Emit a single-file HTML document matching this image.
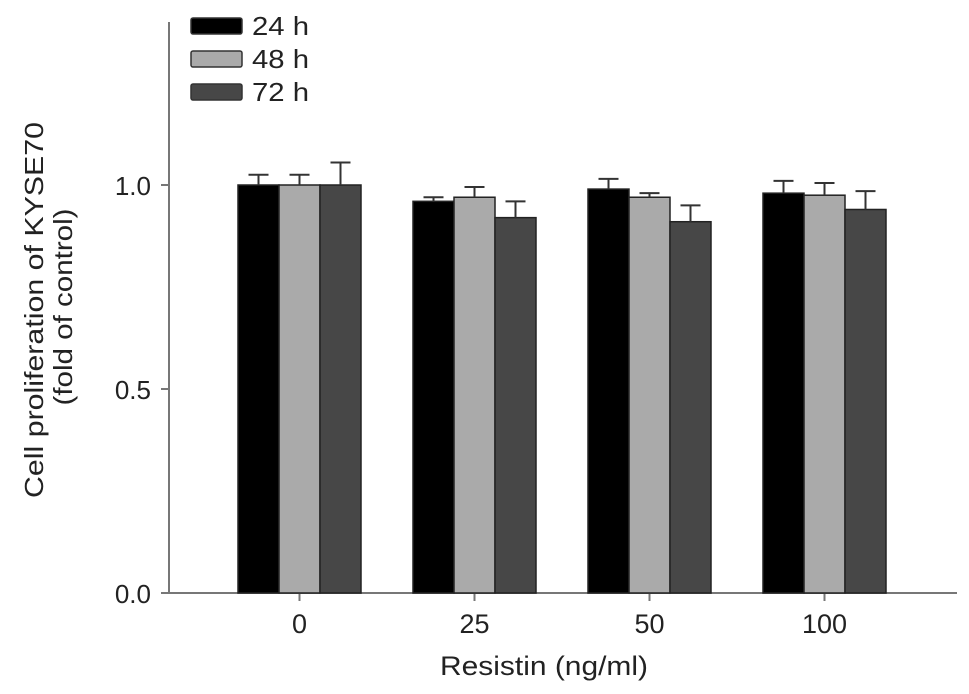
<!DOCTYPE html>
<html><head><meta charset="utf-8"><style>
body{margin:0;background:#fff;}
svg{display:block;font-family:"Liberation Sans",Arial,sans-serif;}
</style></head><body>
<svg id="chart" width="969" height="694"></svg>
<script>
const categories = ["0","25","50","100"];
const seriesNames = ["24 h","48 h","72 h"];
const values24 = [1.00,0.96,0.99,0.98];
const values48 = [1.00,0.97,0.97,0.975];
const values72 = [1.00,0.92,0.91,0.94];
const err24 = [0.025,0.01,0.025,0.03];
const err48 = [0.025,0.025,0.01,0.03];
const err72 = [0.055,0.04,0.04,0.045];
const yTicks = [0.0,0.5,1.0];
const yTickLabels = ["0.0","0.5","1.0"];
const colors = ["#000000","#aaaaaa","#474747"];

const NS="http://www.w3.org/2000/svg";
const svg=document.getElementById('chart');
function mk(t,a,p){const e=document.createElementNS(NS,t);for(const k in a)e.setAttribute(k,a[k]);(p||svg).appendChild(e);return e;}
const y0=593, perUnit=408;
const yScale=v=>y0-v*perUnit;
const x0=299.5, step=175, bw=41;
const xCenter=i=>x0+i*step;

let e=mk('line',{x1:169,y1:22,x2:169,y2:y0,stroke:'#777','stroke-width':2});


e=mk('line',{x1:162,y1:y0,x2:957,y2:y0,stroke:'#777','stroke-width':2});



yTicks.forEach((v,i)=>{
  const y=yScale(v);
  let t=mk('line',{x1:161,y1:y,x2:169,y2:y,stroke:'#777','stroke-width':2});
  
  
  let l=mk('text',{x:151,y:y+10,'text-anchor':'end','font-size':26,fill:'#222'});
  l.textContent=yTickLabels[i];
  
  
});

const allVals=[values24,values48,values72], allErr=[err24,err48,err72];
categories.forEach((c,i)=>{
  const cx=xCenter(i);
  let t=mk('line',{x1:cx,y1:y0,x2:cx,y2:y0+8,stroke:'#777','stroke-width':2});
  
  
  let l=mk('text',{x:cx,y:633,'text-anchor':'middle','font-size':27,fill:'#222'});
  l.textContent=c;
  
  
  for(let s=0;s<3;s++){
    const v=allVals[s][i], er=allErr[s][i];
    const bx=cx-1.5*bw+s*bw, by=yScale(v), mid=bx+bw/2;
    let b=mk('rect',{x:bx,y:by,width:bw,height:y0-by,fill:colors[s],stroke:'#222','stroke-width':1.5});
    
    
    const ty=yScale(v+er);
    let g=mk('path',{d:`M${mid},${by}V${ty}M${mid-10},${ty}H${mid+10}`,stroke:'#333','stroke-width':2,fill:'none'});
    
    
  }
});

seriesNames.forEach((n,s)=>{
  const y=18+s*33;
  let r=mk('rect',{x:191,y:y,width:51,height:16,rx:2,fill:colors[s],stroke:'#333','stroke-width':1.5});
  
  
  let t=mk('text',{x:252,y:y+17,'font-size':26,fill:'#222',textLength:57,lengthAdjust:'spacingAndGlyphs'});
  t.textContent=n;
  
  
});

let xt=mk('text',{x:544,y:675,'text-anchor':'middle','font-size':27,fill:'#222',textLength:208,lengthAdjust:'spacingAndGlyphs'});
xt.textContent='Resistin (ng/ml)';


let yt=mk('text',{transform:'translate(43,310) rotate(-90)','text-anchor':'middle','font-size':26,fill:'#222',textLength:376,lengthAdjust:'spacingAndGlyphs'});
yt.textContent='Cell proliferation of KYSE70';


let yt2=mk('text',{transform:'translate(72,307) rotate(-90)','text-anchor':'middle','font-size':26,fill:'#222',textLength:197,lengthAdjust:'spacingAndGlyphs'});
yt2.textContent='(fold of control)';


</script>
</body></html>
